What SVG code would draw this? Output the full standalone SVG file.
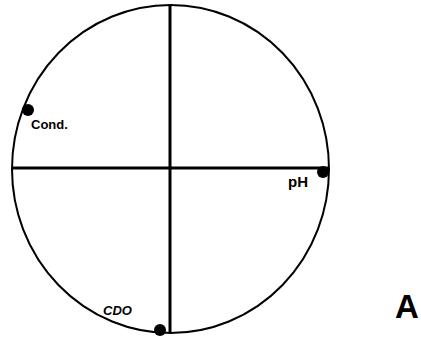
<svg xmlns="http://www.w3.org/2000/svg" width="421" height="339" viewBox="0 0 421 339">
<style>
.outline{fill:none;stroke:#000;stroke-width:2}
.axis{stroke:#000;stroke-width:3;fill:none}
.dot{fill:#000}
.lbl{font-family:"Liberation Sans",Arial,sans-serif;font-weight:bold;fill:#000}
</style>
<rect width="421" height="339" fill="#fff"/>
<g id="circle"><ellipse class="outline" cx="170.5" cy="169" rx="158.5" ry="164"/></g>
<g id="connectors">
<line class="axis" x1="170" y1="5" x2="170" y2="333"/>
<line class="axis" x1="12" y1="168" x2="329" y2="168"/>
</g>
<g id="cond"><circle class="dot" cx="28" cy="110" r="6"/><text class="lbl" x="31" y="129" font-size="13">Cond.</text></g>
<g id="ph"><circle class="dot" cx="323" cy="172" r="6"/><text class="lbl" x="288" y="187" font-size="15">pH</text></g>
<g id="cdo"><circle class="dot" cx="160" cy="330" r="6"/><text class="lbl" x="103" y="315" font-size="13" font-style="italic">CDO</text></g>
<g id="label-a"><text class="lbl" x="395" y="318" font-size="33">A</text></g>
</svg>
